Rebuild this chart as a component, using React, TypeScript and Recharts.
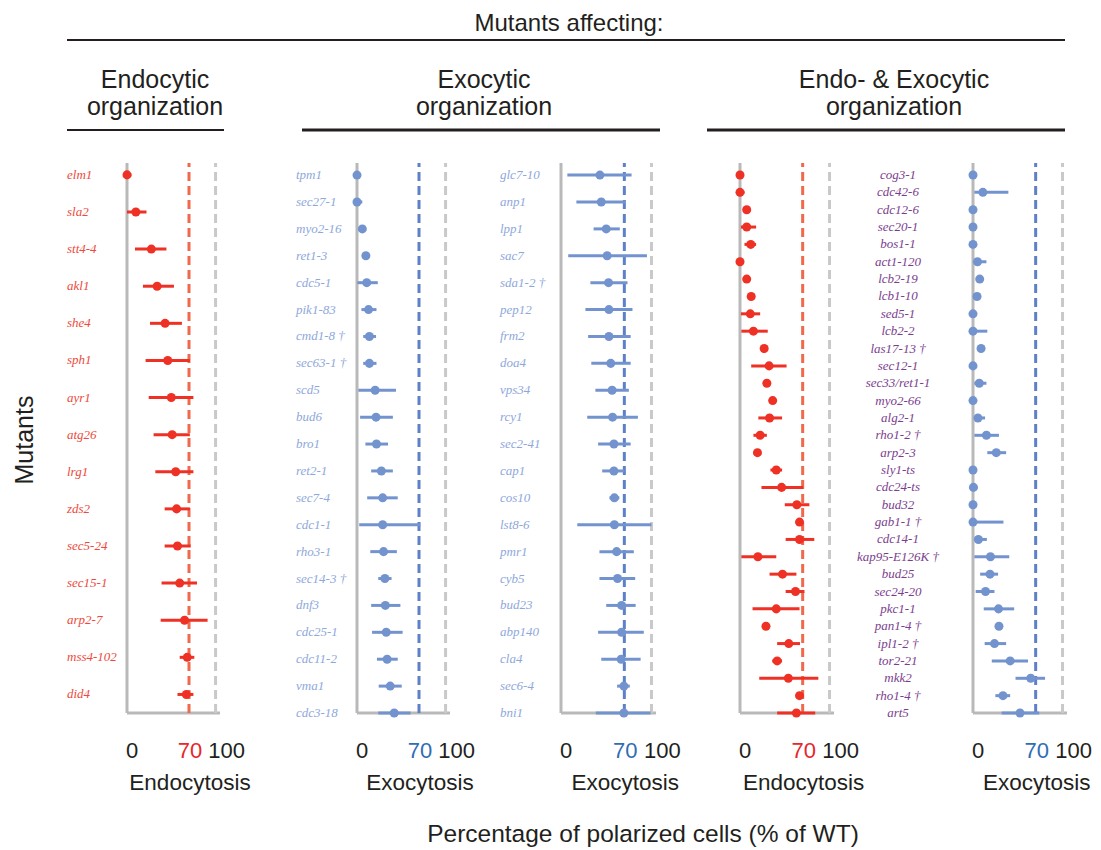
import React from 'react';
import { ScatterChart, Scatter, XAxis, YAxis, ErrorBar, ReferenceLine } from 'recharts';

// Endocytic organization
const endoNames = ['elm1', 'sla2', 'stt4-4', 'akl1', 'she4', 'sph1', 'ayr1', 'atg26', 'lrg1', 'zds2', 'sec5-24', 'sec15-1', 'arp2-7', 'mss4-102', 'did4'];
const endoMean = [0, 10, 27.5, 34, 43, 46, 50, 51, 55, 56, 57, 59.5, 65, 68, 67];
const endoLow = [0, 0, 9, 18, 26, 21, 24.5, 30, 32, 42.5, 42.5, 39, 38, 59.5, 57];
const endoHigh = [5, 22, 44.5, 53, 62, 71, 75, 71, 75, 71, 72, 79, 91, 76, 75];

// Exocytic organization, left column
const exoANames = ['tpm1', 'sec27-1', 'myo2-16', 'ret1-3', 'cdc5-1', 'pik1-83', 'cmd1-8 †', 'sec63-1 †', 'scd5', 'bud6', 'bro1', 'ret2-1', 'sec7-4', 'cdc1-1', 'rho3-1', 'sec14-3 †', 'dnf3', 'cdc25-1', 'cdc11-2', 'vma1', 'cdc3-18'];
const exoAMean = [0, 0, 6, 10, 11, 13, 14, 14, 20.5, 21.5, 22, 27.5, 29, 29, 30, 31.5, 32, 33, 34, 37.5, 42];
const exoALow = [0, 0, 6, 10, 0.5, 5, 7, 7, 1.5, 3.5, 9.5, 16, 11.5, 2.5, 15, 24, 16, 17, 22.5, 24.5, 24];
const exoAHigh = [0, 6, 6, 10, 23.5, 22, 21.5, 22, 44, 40.5, 35, 40.5, 46, 71.5, 45, 39, 49, 51.5, 46, 50.5, 60.5];

// Exocytic organization, right column
const exoBNames = ['glc7-10', 'anp1', 'lpp1', 'sac7', 'sda1-2 †', 'pep12', 'frm2', 'doa4', 'vps34', 'rcy1', 'sec2-41', 'cap1', 'cos10', 'lst8-6', 'pmr1', 'cyb5', 'bud23', 'abp140', 'cla4', 'sec6-4', 'bni1'];
const exoBMean = [43, 44.5, 50, 51, 52.5, 53, 53, 55, 56.5, 57, 58.5, 58.5, 59, 59, 61.5, 62.5, 67, 67, 66.5, 69.5, 69.5];
const exoBLow = [7, 17, 36, 8, 32.5, 27, 30, 33.5, 38, 29, 41, 45.5, 53.5, 18, 42.5, 42.5, 50, 41, 44.5, 62, 38.5];
const exoBHigh = [78, 71, 65, 95, 73.5, 79, 77, 77, 75, 85, 77, 70, 64.5, 100, 80.5, 82, 82.5, 91.5, 88, 76, 99];

// Endo- & Exocytic organization
const bothNames = ['cog3-1', 'cdc42-6', 'cdc12-6', 'sec20-1', 'bos1-1', 'act1-120', 'lcb2-19', 'lcb1-10', 'sed5-1', 'lcb2-2', 'las17-13 †', 'sec12-1', 'sec33/ret1-1', 'myo2-66', 'alg2-1', 'rho1-2 †', 'arp2-3', 'sly1-ts', 'cdc24-ts', 'bud32', 'gab1-1 †', 'cdc14-1', 'kap95-E126K †', 'bud25', 'sec24-20', 'pkc1-1', 'pan1-4 †', 'ipl1-2 †', 'tor2-21', 'mkk2', 'rho1-4 †', 'art5'];
const bothEndoMean = [0, 0, 7.5, 7.5, 12, 0, 7.5, 12.5, 11.5, 15, 27, 32.5, 30, 36.5, 33, 22.5, 19.5, 40.5, 46.5, 63.5, 66.5, 66.5, 20, 47.5, 62, 40.5, 29, 54.5, 41.5, 54, 66.5, 63];
const bothEndoLow = [0, 0, 7.5, 1, 5, 0, 7.5, 12.5, 1, 1.5, 27, 12.5, 30, 36.5, 20.5, 15, 19.5, 34, 24, 50, 66.5, 51, 1.5, 33, 51, 14, 29, 41.5, 36, 21.5, 66.5, 41.5];
const bothEndoHigh = [0, 5, 7.5, 18, 18, 0, 7.5, 12.5, 22.5, 31, 27, 52, 30, 36.5, 47, 30, 19.5, 47, 70.5, 77.5, 66.5, 83, 40.5, 63, 72, 66.5, 29, 67, 47, 87.5, 66.5, 84];
const bothExoMean = [0, 11, 0, 0, 0, 5, 7.5, 4.5, 0, 0, 9, 0, 7, 0, 5.5, 15, 26, 0, 0.5, 0, 0, 6, 19.5, 19, 14, 28.5, 29, 24, 41.5, 64.5, 33.5, 52.5];
const bothExoLow = [0, 1.5, 0, 0, 0, 1.5, 7.5, 4.5, 0, 0, 9, 0, 1.5, 0, 2, 1.5, 16, 0, 0, 0, 0, 2, 1.5, 8, 3, 12, 29, 13, 21, 47.5, 25, 32];
const bothExoHigh = [0, 39.5, 0, 0, 0, 15, 7.5, 4.5, 0, 16, 9, 0, 15, 0, 13.5, 29, 37, 0, 5, 0, 34, 15.5, 40.5, 28, 24, 46, 29, 37, 61.5, 80.5, 41.5, 74];

const SANS = '"Liberation Sans", Arial, Helvetica, sans-serif';
const SERIF = '"Liberation Serif", "Times New Roman", serif';
const RED = '#ee3124';
const BLUE = '#7393cf';
const AXIS_GREY = '#b9b9b9';
const DASH_GREY = '#c9c9c9';
const INK = '#231f20';

const CHART_TOP = 150;
const CHART_H = 655;
const TICK_Y = 608;
const TITLE_Y = 640;

type PanelProps = {
  names: string[];
  mean: number[];
  low: number[];
  high: number[];
  left: number;
  width: number;
  yWidth: number;
  plotW: number;
  yDomain: [number, number];
  dot: string;
  refColor: string;
  accent: string;
  title: string;
  labelColor?: string;
  labelX?: number;
  labelAnchor?: 'start' | 'middle';
};

function Panel(p: PanelProps) {
  const rows = p.names.map((name, i) => ({
    name,
    idx: i,
    mean: p.mean[i],
    err: [p.mean[i] - p.low[i], p.high[i] - p.mean[i]],
  }));
  const marginLeft = p.yWidth ? 0 : 20;
  const right = p.width - p.yWidth - marginLeft - p.plotW;

  const xTick = (t: any) => {
    const v = t.payload.value;
    const shift = v === 0 ? 5 : v === 100 ? 11 : 1;
    return (
      <g>
        <text x={t.x + shift} y={TICK_Y} textAnchor="middle" fontSize={22} fontFamily={SANS} fill={v === 70 ? p.accent : INK}>
          {v}
        </text>
        {v === 70 && (
          <text x={t.x + 1} y={TITLE_Y} textAnchor="middle" fontSize={22.5} fontFamily={SANS} fill={INK}>
            {p.title}
          </text>
        )}
      </g>
    );
  };

  const yTick = (t: any) => (
    <text
      x={p.labelX}
      y={t.y}
      dy={4}
      textAnchor={p.labelAnchor}
      fontSize={13}
      fontStyle="italic"
      fontFamily={SERIF}
      fill={p.labelColor}
    >
      {p.names[t.payload.value]}
    </text>
  );

  return (
    <div style={{ position: 'absolute', left: p.left, top: CHART_TOP }}>
      <ScatterChart width={p.width} height={CHART_H} margin={{ top: 13, right, bottom: 5, left: marginLeft }}>
        <XAxis
          type="number"
          dataKey="mean"
          domain={[0, 105]}
          ticks={[0, 70, 100]}
          interval={0}
          height={87}
          axisLine={false}
          tickLine={false}
          tick={xTick}
        />
        <YAxis
          type="number"
          dataKey="idx"
          domain={p.yDomain}
          reversed
          ticks={rows.map((r) => r.idx)}
          interval={0}
          width={p.yWidth || 1}
          hide={!p.yWidth}
          axisLine={false}
          tickLine={false}
          tick={yTick}
        />
        <ReferenceLine y={p.yDomain[1]} stroke={AXIS_GREY} strokeWidth={3} />
        <ReferenceLine x={0} stroke={AXIS_GREY} strokeWidth={3} />
        <ReferenceLine x={70} stroke={p.refColor} strokeWidth={3} strokeDasharray="9 5" />
        <ReferenceLine x={100} stroke={DASH_GREY} strokeWidth={3} strokeDasharray="9 5" />
        <Scatter data={rows} fill={p.dot} isAnimationActive={false}>
          <ErrorBar dataKey="err" direction="x" width={0} strokeWidth={3} stroke={p.dot} />
        </Scatter>
      </ScatterChart>
    </div>
  );
}

export default function App() {
  return (
    <div style={{ position: 'absolute', left: 0, top: 0, width: 1101, height: 850, background: '#fff' }}>
      <svg width={1101} height={850} style={{ position: 'absolute', left: 0, top: 0 }}>
        <g fontFamily={SANS} fill={INK} textAnchor="middle">
          <text x={569} y={31} fontSize={24}>Mutants affecting:</text>
          <line x1={67} x2={1065} y1={40} y2={40} stroke={INK} strokeWidth={2} />
          <text x={155} y={88} fontSize={25}>Endocytic</text>
          <text x={155} y={115} fontSize={25}>organization</text>
          <text x={484} y={88} fontSize={25}>Exocytic</text>
          <text x={484} y={115} fontSize={25}>organization</text>
          <text x={894} y={88} fontSize={25}>Endo- &amp; Exocytic</text>
          <text x={894} y={115} fontSize={25}>organization</text>
          <line x1={67} x2={224} y1={130} y2={130} stroke={INK} strokeWidth={2} />
          <line x1={302} x2={660} y1={130} y2={130} stroke={INK} strokeWidth={3} />
          <line x1={707} x2={1065} y1={130} y2={130} stroke={INK} strokeWidth={3} />
          <text x={33} y={440} fontSize={25} transform="rotate(-90, 33, 440)">Mutants</text>
          <text x={643} y={842} fontSize={24.5}>Percentage of polarized cells (% of WT)</text>
        </g>
      </svg>

      <Panel
        names={endoNames} mean={endoMean} low={endoLow} high={endoHigh}
        left={60} width={200} yWidth={67} plotW={93} yDomain={[-0.32, 14.5]}
        dot={RED} refColor="#ef6a4c" accent="#e8262b" title="Endocytosis"
        labelColor="#ec4a3c" labelX={7} labelAnchor="start"
      />
      <Panel
        names={exoANames} mean={exoAMean} low={exoALow} high={exoAHigh}
        left={290} width={200} yWidth={67} plotW={93} yDomain={[-0.45, 20]}
        dot={BLUE} refColor="#5d80c8" accent="#2f6db5" title="Exocytosis"
        labelColor="#8ea8db" labelX={6} labelAnchor="start"
      />
      <Panel
        names={exoBNames} mean={exoBMean} low={exoBLow} high={exoBHigh}
        left={494} width={200} yWidth={67} plotW={95} yDomain={[-0.45, 20]}
        dot={BLUE} refColor="#5d80c8" accent="#2f6db5" title="Exocytosis"
        labelColor="#8ea8db" labelX={6} labelAnchor="start"
      />
      <Panel
        names={bothNames} mean={bothEndoMean} low={bothEndoLow} high={bothEndoHigh}
        left={720} width={150} yWidth={0} plotW={94} yDomain={[-0.69, 31]}
        dot={RED} refColor="#ef6a4c" accent="#e8262b" title="Endocytosis"
      />
      <Panel
        names={bothNames} mean={bothExoMean} low={bothExoLow} high={bothExoHigh}
        left={845} width={256} yWidth={128} plotW={94} yDomain={[-0.69, 31]}
        dot={BLUE} refColor="#5d80c8" accent="#2f6db5" title="Exocytosis"
        labelColor="#7b3e8e" labelX={53} labelAnchor="middle"
      />
    </div>
  );
}
